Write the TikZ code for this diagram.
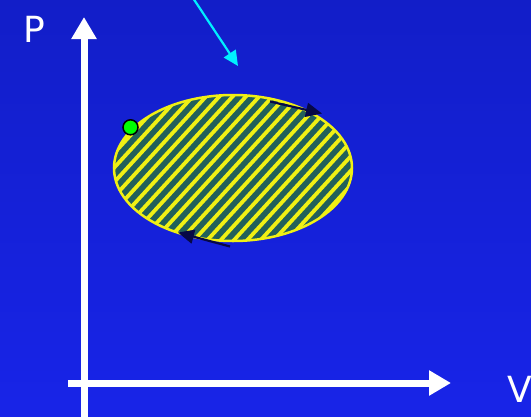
\documentclass[tikz,border=0pt]{standalone}
\usepackage{fontspec}
\setmainfont{DejaVu Sans}
\usetikzlibrary{arrows.meta}
\definecolor{bgtop}{RGB}{18,30,200}
\definecolor{bgbot}{RGB}{24,36,232}
\definecolor{teal}{RGB}{34,96,90}
\definecolor{stripe}{RGB}{240,240,20}
\definecolor{navy}{RGB}{6,8,70}
\definecolor{aqua}{RGB}{0,240,255}
\tikzset{
  axis/.style={white, line width=7pt, -{Triangle[width=24pt,length=22pt]}},
  cyc/.style={navy, line width=2.2pt, -{Triangle[width=14pt,length=16pt]}},
  lbl/.style={white, font=\fontsize{36}{36}\selectfont, inner sep=0pt},
}
\begin{document}
\begin{tikzpicture}[x=1pt,y=-1pt]
\useasboundingbox (0,0) rectangle (531,416);
\shade[top color=bgtop, bottom color=bgbot] (0,0) rectangle (531,416);
% axes
\coordinate (ybot) at (84,420);
\coordinate (ytop) at (84,17);
\coordinate (xleft) at (68,383);
\coordinate (xright) at (451,383);
\draw[axis] (ybot) -- (ytop);
\draw[axis] (xleft) -- (xright);
\node[lbl] (P) at (34,29) {P};
\node[lbl] (V) at (520,389) {V};
% cycle
\coordinate (c) at (233,168);
\begin{scope}
  \clip (c) ellipse [x radius=119, y radius=73];
  \fill[teal] (c) ellipse [x radius=119, y radius=73];
  \foreach \k in {-180,-166.7,...,380}
    \draw[stripe, line width=3.8pt] (\k,300) -- (\k+275,0);
\end{scope}
\draw[stripe, line width=2.5pt] (c) ellipse [x radius=119, y radius=73];
% green point
\node[circle, fill=green, draw=black, line width=1.5pt, minimum size=15pt, inner sep=0pt] (pt) at (130.5,127.3) {};
% direction arrows
\coordinate (a1s) at (270,101.5);
\coordinate (a1e) at (322,113.5);
\draw[cyc] (a1s) -- (a1e);
\coordinate (a2s) at (230,246.5);
\coordinate (a2e) at (178,232.5);
\draw[cyc] (a2s) -- (a2e);
% cyan arrow
\coordinate (cs) at (193,-2);
\coordinate (ce) at (238,66);
\draw[aqua, line width=2.2pt, -{Triangle[width=14pt,length=15pt]}] (cs) -- (ce);
\end{tikzpicture}
\end{document}
